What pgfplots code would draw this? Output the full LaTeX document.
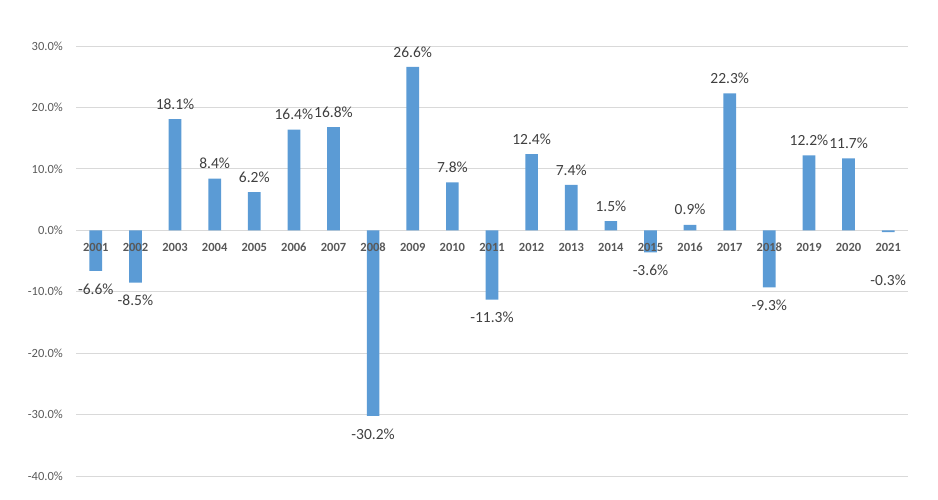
\documentclass[border=0pt]{standalone}
\usepackage{pgfplots}
\pgfplotsset{compat=1.18}
\usepackage{pgfplotstable}
\usepackage{fontspec}
\setmainfont{Carlito}

\definecolor{barblue}{HTML}{5B9BD5}
\definecolor{gridgray}{HTML}{D9D9D9}
\definecolor{axistext}{HTML}{595959}
\definecolor{labeltext}{HTML}{404040}

% x = position, yr = year, y = return, lbl = label text, off = label offset (pt)
\pgfplotstableread{
x  yr   y     lbl    off
0  2001 -6.6  -6.6   -18
1  2002 -8.5  -8.5   -18
2  2003 18.1  18.1   15
3  2004 8.4   8.4    15
4  2005 6.2   6.2    15
5  2006 16.4  16.4   15
6  2007 16.8  16.8   15
7  2008 -30.2 -30.2  -18
8  2009 26.6  26.6   15
9  2010 7.8   7.8    15
10 2011 -11.3 -11.3  -18
11 2012 12.4  12.4   15
12 2013 7.4   7.4    15
13 2014 1.5   1.5    15
14 2015 -3.6  -3.6   -18
15 2016 0.9   0.9    15
16 2017 22.3  22.3   15
17 2018 -9.3  -9.3   -18
18 2019 12.2  12.2   15
19 2020 11.7  11.7   15
20 2021 -0.3  -0.3   -48
}\returns

\begin{document}
\begin{tikzpicture}
\path[use as bounding box] (0,0) rectangle (938pt,499pt);
\begin{axis}[
    at={(76pt,23pt)}, anchor=south west,
    scale only axis,
    width=832pt, height=430pt,
    xmin=-0.5, xmax=20.5,
    ymin=-40, ymax=30,
    axis line style={draw=none},
    tick style={draw=none},
    major tick length=0pt,
    ymajorgrids=true,
    grid style={gridgray, line width=0.8pt},
    ytick={-40,-30,-20,-10,0,10,20,30},
    yticklabels={-40.0\%,-30.0\%,-20.0\%,-10.0\%,0.0\%,10.0\%,20.0\%,30.0\%},
    yticklabel style={anchor=east, inner sep=0pt, xshift=-13pt,
        font=\fontsize{12.5}{14}\selectfont, text=axistext},
    xtick=\empty,
]
\addplot[
    ybar, bar width=12.7pt, fill=barblue, draw=none,
    point meta=explicit symbolic,
    visualization depends on={\thisrow{off} \as \off},
    nodes near coords={\pgfplotspointmeta\%},
    every node near coord/.append style={anchor=center, inner sep=0pt,
        yshift=\off, font=\fontsize{15.5}{17}\selectfont, text=labeltext},
] table[x=x, y=y, meta=lbl] {\returns};
% year labels on the zero line, drawn over the bars
\addplot[
    draw=none, mark=none,
    point meta=explicit symbolic,
    nodes near coords,
    every node near coord/.append style={anchor=center, inner sep=0pt,
        yshift=-17pt, font=\bfseries\fontsize{12.5}{14}\selectfont, text=axistext},
] table[x=x, y expr=0, meta=yr] {\returns};
\end{axis}
\end{tikzpicture}
\end{document}
